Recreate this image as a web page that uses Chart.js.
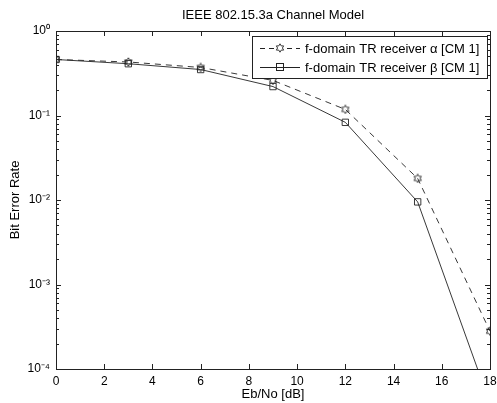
<!DOCTYPE html>
<html>
<head>
<meta charset="utf-8">
<script src="https://cdn.jsdelivr.net/npm/chart.js@4/dist/chart.umd.min.js"></script>
<style>
  html,body{ margin:0; padding:0; background:#fff; }
  #wrap{ width:497px; height:403px; position:relative; }
</style>
</head>
<body>
<div id="wrap"><canvas id="c" width="497" height="403"></canvas></div>
<script>
// ── DATOS ───────────────────────────────────────────────
const ebno      = [0, 3, 6, 9, 12, 15, 18];
const berAlpha  = [0.46, 0.43, 0.37, 0.26, 0.118, 0.018, 0.00028];
const berBeta   = [0.46, 0.41, 0.35, 0.22, 0.083, 0.0095, 0.000039];
const labelAlpha = 'f-domain TR receiver α [CM 1]';
const labelBeta  = 'f-domain TR receiver β [CM 1]';
const chartTitle = 'IEEE 802.15.3a Channel Model';
const yDecades   = [1e-4, 1e-3, 1e-2, 1e-1, 1];
const yTickText  = ['10⁻⁴', '10⁻³', '10⁻²', '10⁻¹', '10⁰'];
const xTicks     = [0, 2, 4, 6, 8, 10, 12, 14, 16, 18];

const FONT = 'Liberation Sans, Arial, sans-serif';
const INK = '#222';

// ── MARCADOR HEXAGRAMA ──────────────────────────────────
function hexagram(size){
  const cv = document.createElement('canvas');
  cv.width = size; cv.height = size;
  const g = cv.getContext('2d');
  const c = size/2, ro = size/2 - 0.8, ri = ro*0.58;
  g.beginPath();
  for(let i=0;i<12;i++){
    const r = i%2 ? ri : ro;
    const a = -Math.PI/2 + i*Math.PI/6;
    const px = c + r*Math.cos(a), py = c + r*Math.sin(a);
    i ? g.lineTo(px,py) : g.moveTo(px,py);
  }
  g.closePath();
  g.strokeStyle = INK; g.lineWidth = 0.9;
  g.stroke();
  return cv;
}
const hexImg = hexagram(10);

// ── TÍTULO, CAJA, TICKS INTERNOS Y LEYENDA ──────────────
const frame = {
  id:'frame',
  afterDraw(chart){
    const {ctx, chartArea:a, scales:{x, y}} = chart;
    ctx.save();

    // título centrado sobre el área del gráfico
    ctx.fillStyle = '#000';
    ctx.font = '13px ' + FONT;
    ctx.textAlign = 'center';
    ctx.textBaseline = 'middle';
    ctx.fillText(chartTitle, (a.left+a.right)/2, 15);
    ctx.textAlign = 'left';

    ctx.strokeStyle = INK; ctx.lineWidth = 1;
    ctx.strokeRect(Math.round(a.left)+0.5, Math.round(a.top)+0.5,
                   Math.round(a.right-a.left), Math.round(a.bottom-a.top));
    ctx.beginPath();
    xTicks.forEach(v=>{
      const px = Math.round(x.getPixelForValue(v))+0.5;
      ctx.moveTo(px, a.bottom); ctx.lineTo(px, a.bottom-5);
      ctx.moveTo(px, a.top);    ctx.lineTo(px, a.top+5);
    });
    yDecades.forEach(d=>{
      for(let m=1;m<10;m++){
        const v = d*m;
        if(v>1) break;
        const py = Math.round(y.getPixelForValue(v))+0.5;
        const len = m===1 ? 5 : 3;
        ctx.moveTo(a.left, py);  ctx.lineTo(a.left+len, py);
        ctx.moveTo(a.right, py); ctx.lineTo(a.right-len, py);
      }
    });
    ctx.stroke();

    // leyenda
    const lx = 252, ly = 36, lw = 235, lh = 42;
    ctx.fillStyle = '#fff';
    ctx.fillRect(lx, ly, lw, lh);
    ctx.strokeRect(lx+0.5, ly+0.5, lw, lh);
    const rows = [
      { text:labelAlpha, dash:[5,4], y:ly+12, mark:'hex' },
      { text:labelBeta,  dash:[],    y:ly+31, mark:'sq'  },
    ];
    rows.forEach(r=>{
      ctx.setLineDash(r.dash);
      ctx.beginPath();
      ctx.moveTo(lx+8, r.y+0.5); ctx.lineTo(lx+48, r.y+0.5);
      ctx.stroke();
      ctx.setLineDash([]);
      const mx = lx+28;
      if(r.mark==='hex'){
        ctx.fillStyle = '#fff';
        ctx.fillRect(mx-5, r.y-5, 10, 10);
        ctx.drawImage(hexImg, mx-5, r.y-5);
      } else {
        ctx.strokeRect(mx-3.5, r.y-3.5, 7, 7);
      }
      ctx.fillStyle = '#000';
      ctx.font = '13px ' + FONT;
      ctx.textBaseline = 'middle';
      ctx.fillText(r.text, lx+53, r.y+1);
    });
    ctx.restore();
  }
};

// ── GRÁFICO ─────────────────────────────────────────────
new Chart(document.getElementById('c'), {
  type:'line',
  data:{
    labels: ebno,
    datasets:[
      {
        label: labelAlpha,
        data: ebno.map((v,i)=>({x:v, y:berAlpha[i]})),
        borderColor: INK, borderWidth: 0.9, borderDash:[6,5],
        pointStyle: hexImg, pointRadius: 5,
        tension: 0, fill:false
      },
      {
        label: labelBeta,
        data: ebno.map((v,i)=>({x:v, y:berBeta[i]})),
        borderColor: INK, borderWidth: 0.9,
        pointStyle:'rect', pointRadius: 4.5, pointBorderWidth: 0.9,
        pointBackgroundColor:'rgba(0,0,0,0)', pointBorderColor: INK,
        tension: 0, fill:false
      }
    ]
  },
  options:{
    responsive:false,
    animation:false,
    layout:{ padding:{ left:0, right:7, top:31, bottom:0 } },
    plugins:{
      legend:{ display:false },
      tooltip:{ enabled:false },
      title:{ display:false }
    },
    scales:{
      x:{
        type:'linear', min:0, max:18,
        afterBuildTicks: s => { s.ticks = xTicks.map(v=>({value:v})); },
        ticks:{ color:'#000', font:{ family:FONT, size:12 }, padding:5, maxRotation:0 },
        grid:{ display:false, drawTicks:false },
        border:{ display:false },
        title:{ display:true, text:'Eb/No [dB]', color:'#000',
                font:{ family:FONT, size:13 }, padding:{ top:0, bottom:1 } },
        afterFit: s => { s.height = 34; s.paddingLeft = 0; s.paddingRight = 0; }
      },
      y:{
        type:'logarithmic', min:1e-4, max:1,
        afterBuildTicks: s => { s.ticks = yDecades.map(v=>({value:v})); },
        ticks:{ color:'#000', font:{ family:FONT, size:12 }, padding:6,
                callback:(v)=>{ const i = yDecades.findIndex(d=>Math.abs(d-v)/d<1e-6); return i>=0 ? yTickText[i] : ''; } },
        grid:{ display:false, drawTicks:false },
        border:{ display:false },
        title:{ display:true, text:'Bit Error Rate', color:'#000',
                font:{ family:FONT, size:13 }, padding:{ top:8, bottom:0 } },
        afterFit: s => { s.width = 56; s.paddingTop = 0; s.paddingBottom = 0; }
      }
    }
  },
  plugins:[frame]
});
</script>
</body>
</html>
